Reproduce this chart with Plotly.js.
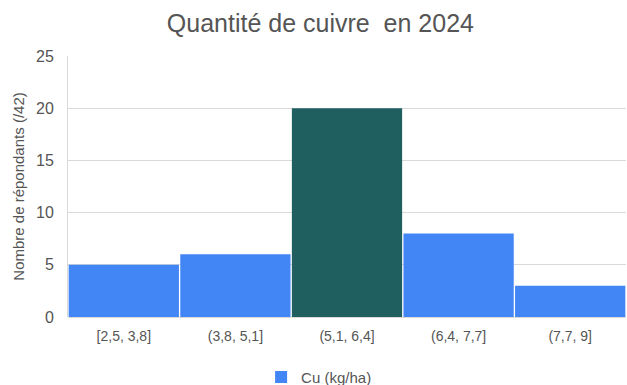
<!DOCTYPE html>
<html>
<head>
<meta charset="utf-8">
<script src="https://cdn.plot.ly/plotly-3.0.1.min.js"></script>
<style>html,body{margin:0;padding:0;background:#fff;}#chart{width:627px;height:385px;}</style>
</head>
<body>
<div id="chart"></div>
<script>
const categories = ["[2,5, 3,8]", "(3,8, 5,1]", "(5,1, 6,4]", "(6,4, 7,7]", "(7,7, 9]"];
const values = [5, 6, 20, 8, 3];
const seriesName = "Cu (kg/ha)";
const highlightIndex = 2;
const yTicks = [0, 5, 10, 15, 20, 25];

const colors = categories.map((c, i) => i === highlightIndex ? "#1f5f5f" : "#4285f4");

const trace = {
  type: "bar",
  x: categories,
  y: values,
  name: seriesName,
  marker: { color: colors, line: { width: 0 } },
  showlegend: true,
  hoverinfo: "x+y"
};

const layout = {
  width: 627,
  height: 385,
  paper_bgcolor: "#fff",
  plot_bgcolor: "#fff",
  font: { family: "Liberation Sans, Arial, sans-serif", color: "#444" },
  title: { text: "Quantité de cuivre  en 2024", font: { size: 25, color: "#555" }, x: 0.511, xanchor: "center", xref: "container", y: 0.94, yanchor: "middle" },
  margin: { l: 68, r: 1, t: 56, b: 68, autoexpand: false },
  bargap: 0.012,
  xaxis: {
    type: "category",
    tickfont: { size: 14, color: "#555" },
    showgrid: false,
    showline: false,
    ticks: "",
    ticklen: 0,
    ticklabelstandoff: 9,
    automargin: false
  },
  yaxis: {
    range: [0, 25],
    tickvals: yTicks,
    ticktext: yTicks.map(String),
    tickfont: { size: 16, color: "#555" },
    gridcolor: "#d9d9d9",
    gridwidth: 1,
    zeroline: true,
    zerolinecolor: "#d9d9d9",
    showline: true,
    linecolor: "#d9d9d9",
    ticks: "",
    ticklabelstandoff: 10,
    title: { text: "Nombre de répondants (/42)", font: { size: 15, color: "#555" }, standoff: 7 },
    automargin: false
  },
  legend: {
    orientation: "h",
    x: 0.45,
    xanchor: "center",
    y: -0.168,
    yanchor: "top",
    font: { size: 15, color: "#555" },
    itemwidth: 30
  }
};

Plotly.newPlot("chart", [trace], layout, { displayModeBar: false, staticPlot: true });
</script>
</body>
</html>
